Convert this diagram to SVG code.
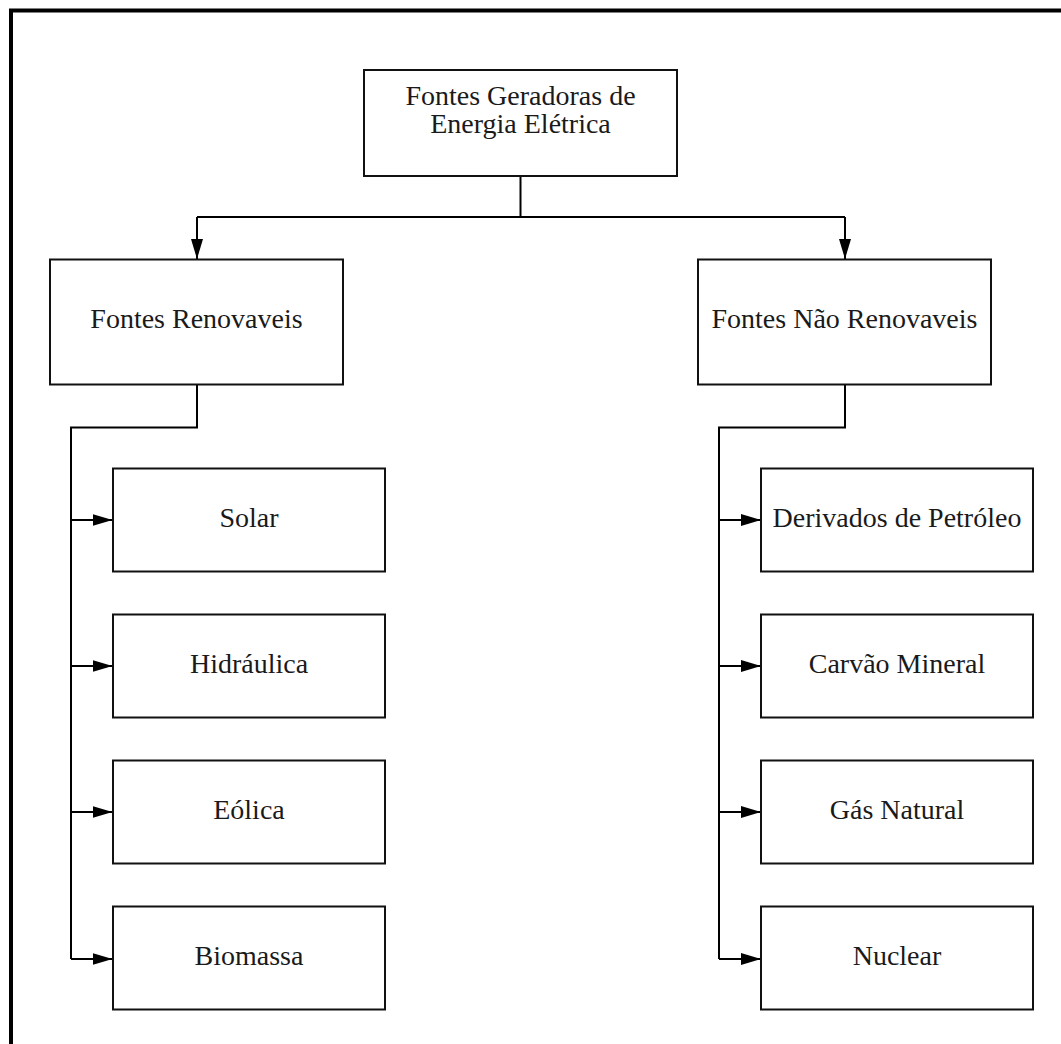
<svg xmlns="http://www.w3.org/2000/svg" width="1061" height="1044" viewBox="0 0 1061 1044">
  <style>
    .box { fill: #ffffff; stroke: #111111; stroke-width: 2; }
    .lbl { font-family: "Liberation Serif", "DejaVu Serif", serif; font-size: 28px; fill: #1a1a1a; text-anchor: middle; }
    .wire { fill: none; stroke: #000000; stroke-width: 2; }
    .frame { fill: none; stroke: #000000; stroke-width: 4; }
  </style>
  <defs>
    <marker id="arrow" viewBox="0 0 20 12" refX="20" refY="6" markerWidth="20" markerHeight="12" markerUnits="userSpaceOnUse" orient="auto">
      <path d="M0,0 L20,6 L0,12 Z" fill="#000000"/>
    </marker>
  </defs>

  <rect width="1061" height="1044" fill="#ffffff"/>
  <!-- page frame: top and left edges only -->
  <path class="frame" d="M11,1044 V10.5 H1061"/>

  <g id="connectors">
    <!-- root to the two categories -->
    <path class="wire" d="M520.5,176 V217"/>
    <path class="wire" d="M197,217 H845"/>
    <path class="wire" d="M197,217 V259" marker-end="url(#arrow)"/>
    <path class="wire" d="M845,217 V259" marker-end="url(#arrow)"/>
    <!-- renewable branch -->
    <path class="wire" d="M197,384 V427.5 H71 V959"/>
    <path class="wire" d="M71,520 H112.5" marker-end="url(#arrow)"/>
    <path class="wire" d="M71,666 H112.5" marker-end="url(#arrow)"/>
    <path class="wire" d="M71,812 H112.5" marker-end="url(#arrow)"/>
    <path class="wire" d="M71,959 H112.5" marker-end="url(#arrow)"/>
    <!-- non-renewable branch -->
    <path class="wire" d="M845,384 V427.5 H719 V959"/>
    <path class="wire" d="M719,520 H761" marker-end="url(#arrow)"/>
    <path class="wire" d="M719,666 H761" marker-end="url(#arrow)"/>
    <path class="wire" d="M719,812 H761" marker-end="url(#arrow)"/>
    <path class="wire" d="M719,959 H761" marker-end="url(#arrow)"/>
  </g>

  <g id="root">
    <rect class="box" x="364" y="70" width="313" height="106"/>
    <text class="lbl" x="520.5" y="105">Fontes Geradoras de</text>
    <text class="lbl" x="520.5" y="133">Energia Elétrica</text>
  </g>

  <g id="renovaveis">
    <rect class="box" x="50" y="259.5" width="293" height="125"/>
    <text class="lbl" x="196.5" y="328">Fontes Renovaveis</text>
  </g>
  <g id="nao-renovaveis">
    <rect class="box" x="698" y="259.5" width="293" height="125"/>
    <text class="lbl" x="844.5" y="328">Fontes Não Renovaveis</text>
  </g>

  <g id="solar">
    <rect class="box" x="113" y="468.5" width="272" height="103"/>
    <text class="lbl" x="249" y="527">Solar</text>
  </g>
  <g id="hidraulica">
    <rect class="box" x="113" y="614.5" width="272" height="103"/>
    <text class="lbl" x="249" y="673">Hidráulica</text>
  </g>
  <g id="eolica">
    <rect class="box" x="113" y="760.5" width="272" height="103"/>
    <text class="lbl" x="249" y="819">Eólica</text>
  </g>
  <g id="biomassa">
    <rect class="box" x="113" y="906.5" width="272" height="103"/>
    <text class="lbl" x="249" y="965">Biomassa</text>
  </g>

  <g id="petroleo">
    <rect class="box" x="761" y="468.5" width="272" height="103"/>
    <text class="lbl" x="897" y="527">Derivados de Petróleo</text>
  </g>
  <g id="carvao">
    <rect class="box" x="761" y="614.5" width="272" height="103"/>
    <text class="lbl" x="897" y="673">Carvão Mineral</text>
  </g>
  <g id="gas">
    <rect class="box" x="761" y="760.5" width="272" height="103"/>
    <text class="lbl" x="897" y="819">Gás Natural</text>
  </g>
  <g id="nuclear">
    <rect class="box" x="761" y="906.5" width="272" height="103"/>
    <text class="lbl" x="897" y="965">Nuclear</text>
  </g>
</svg>
